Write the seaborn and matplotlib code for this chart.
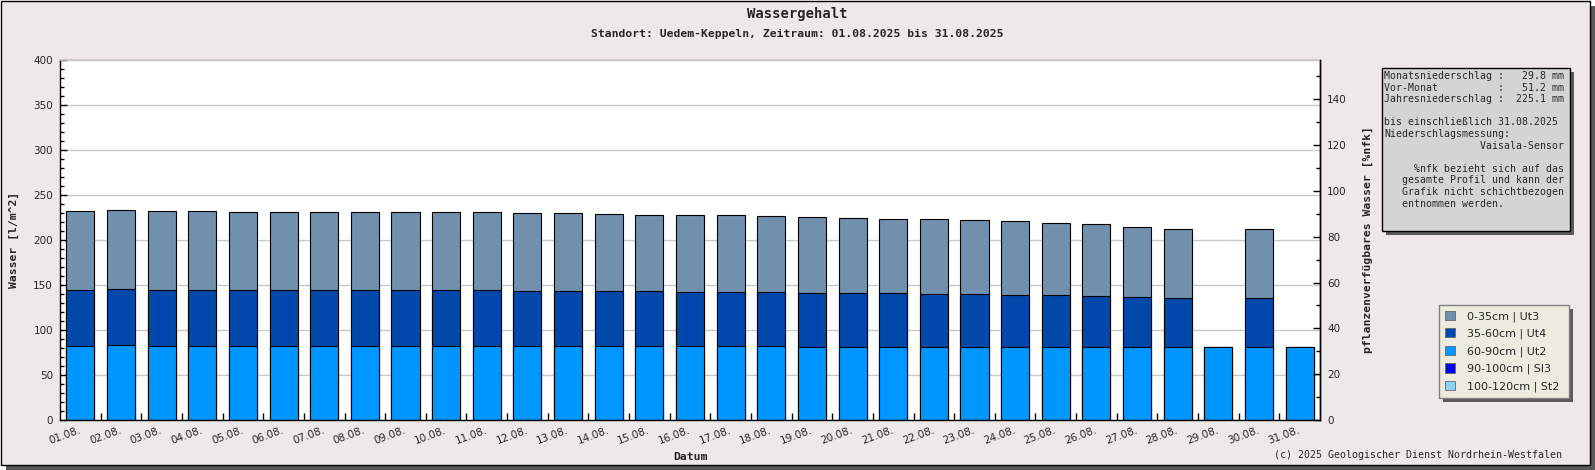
import numpy as np
import matplotlib
matplotlib.use('Agg')
import matplotlib.pyplot as plt
from matplotlib.patches import Rectangle, Patch
from matplotlib.ticker import MultipleLocator, FixedLocator
import seaborn as sns

# Daten: Bodenwasser je Schicht in l/m^2
tage = ['01.08.', '02.08.', '03.08.', '04.08.', '05.08.', '06.08.', '07.08.', '08.08.',
        '09.08.', '10.08.', '11.08.', '12.08.', '13.08.', '14.08.', '15.08.', '16.08.',
        '17.08.', '18.08.', '19.08.', '20.08.', '21.08.', '22.08.', '23.08.', '24.08.',
        '25.08.', '26.08.', '27.08.', '28.08.', '29.08.', '30.08.', '31.08.']

ut3_0_35 = [88.1, 87.8, 88.1, 88.1, 87.0, 87.0, 87.0, 87.0, 87.0, 87.0, 86.6,
            86.6, 86.6, 85.5, 84.4, 85.5, 85.5, 84.4, 84.5, 83.4, 82.3, 83.4,
            82.3, 82.2, 80.0, 80.0, 77.8, 76.7, 0.0, 76.7, 0.0]
ut4_35_60 = [62.3, 62.2, 62.3, 62.3, 62.3, 62.3, 62.3, 62.3, 62.3, 62.3, 62.3,
             61.2, 61.2, 61.2, 61.2, 60.1, 60.1, 60.1, 60.0, 60.0, 60.0, 58.9,
             58.9, 57.8, 57.8, 56.7, 55.6, 54.5, 0.0, 54.5, 0.0]
ut2_60_90 = [81.8, 83.0, 81.8, 81.8, 81.8, 81.8, 81.8, 81.8, 81.8, 81.8, 81.8,
             81.8, 81.8, 81.8, 81.8, 81.8, 81.8, 81.8, 80.7, 80.7, 80.7, 80.7,
             80.7, 80.7, 80.7, 80.7, 80.7, 80.7, 80.7, 80.7, 80.7]

schichten = ['0-35cm | Ut3', '35-60cm | Ut4', '60-90cm | Ut2', '90-100cm | Sl3', '100-120cm | St2']
farben = ['#7090ae', '#0048aa', '#0096ff', '#0000e8', '#8ed2f0']

info_text = "\n".join([
    "Monatsniederschlag :   29.8 mm",
    "Vor-Monat          :   51.2 mm",
    "Jahresniederschlag :  225.1 mm",
    "",
    "bis einschließlich 31.08.2025",
    "Niederschlagsmessung:",
    "                Vaisala-Sensor",
    "",
    "     %nfk bezieht sich auf das",
    "   gesamte Profil und kann der",
    "   Grafik nicht schichtbezogen",
    "   entnommen werden.",
])

W, H = 1595, 470
mono = 'DejaVu Sans Mono'

sns.set_theme(style='white')
plt.rcParams['font.family'] = ['DejaVu Sans']

fig = plt.figure(figsize=(W / 100, H / 100), dpi=100, facecolor='white')


def fx(px):
    return px / W


def fy(py):
    return 1 - py / H


# Rahmen mit Schatten
fig.add_artist(Rectangle((fx(6), fy(470)), fx(1589), 464 / H, transform=fig.transFigure,
                         facecolor='#5a5a5a', edgecolor='none', zorder=-20))
fig.add_artist(Rectangle((fx(1), fy(465)), fx(1589), 464 / H, transform=fig.transFigure,
                         facecolor='#ece9e8', edgecolor='black', linewidth=1, zorder=-19))

ax = fig.add_axes([fx(60), fy(420), fx(1260), 360 / H])
ax.set_facecolor('white')

# gestapelte Balken: erst Gesamthoehe, dann darueber die unteren Schichten
s1 = np.array(ut2_60_90)
s2 = s1 + np.array(ut4_35_60)
s3 = s2 + np.array(ut3_0_35)
for werte, col in [(s3, farben[0]), (s2, farben[1]), (s1, farben[2])]:
    sns.barplot(x=tage, y=werte, color=col, saturation=1, edgecolor='black',
                linewidth=0.8, width=0.69, errorbar=None, ax=ax)

ax.set_xlim(-0.5, 30.5)
ax.set_ylim(0, 400)
ax.set_yticks(range(0, 401, 50))
ax.yaxis.set_minor_locator(MultipleLocator(10))
ax.xaxis.set_minor_locator(FixedLocator(np.arange(0.5, 30, 1)))
ax.grid(axis='y', color='#c8c8c8', linewidth=1)
ax.set_axisbelow(True)
ax.tick_params(axis='y', which='major', direction='in', length=5, width=1,
               color='black', labelsize=7.5, pad=5, left=True)
ax.tick_params(axis='y', which='minor', direction='in', length=3, width=1,
               color='black', left=True)
ax.tick_params(axis='x', which='major', length=0, labelsize=7.5, pad=7)
ax.tick_params(axis='x', which='minor', direction='in', length=5, width=1,
               color='black', bottom=True)
for lab in ax.get_xticklabels():
    lab.set_rotation(20)
    lab.set_ha('right')
    lab.set_va('center')
    lab.set_rotation_mode('anchor')
ax.set_xlabel('')
ax.set_ylabel('')
for side in ['left', 'bottom', 'right']:
    ax.spines[side].set_color('black')
    ax.spines[side].set_linewidth(1)
ax.spines['top'].set_color('#c8c8c8')

ax2 = ax.twinx()
ax2.set_ylim(0, 157.1)
ax2.set_yticks(range(0, 141, 20))
ax2.yaxis.set_minor_locator(MultipleLocator(10))
ax2.tick_params(axis='y', which='major', direction='in', length=5, width=1,
                color='black', labelsize=7.5, pad=5, right=True)
ax2.tick_params(axis='y', which='minor', direction='in', length=3, width=1,
                color='black', right=True)
for side in ax2.spines:
    ax2.spines[side].set_visible(False)
ax2.spines['right'].set_visible(True)
ax2.spines['right'].set_color('black')
ax2.spines['right'].set_linewidth(1)
ax2.grid(False)

# Texte
fig.text(fx(797), fy(14), 'Wassergehalt', family=mono, weight='bold', fontsize=10,
         ha='center', va='center')
fig.text(fx(797), fy(34), 'Standort: Uedem-Keppeln, Zeitraum: 01.08.2025 bis 31.08.2025',
         family=mono, weight='bold', fontsize=8.2, ha='center', va='center')
fig.text(fx(14), fy(240), 'Wasser [l/m^2]', family=mono, weight='bold', fontsize=8.2,
         rotation=90, ha='center', va='center')
fig.text(fx(1368), fy(240), 'pflanzenverfügbares Wasser [%nfk]', family=mono, weight='bold',
         fontsize=8.2, rotation=90, ha='center', va='center')
fig.text(fx(690), fy(457), 'Datum', family=mono, weight='bold', fontsize=8.2,
         ha='center', va='center')
fig.text(fx(1562), fy(455), '(c) 2025 Geologischer Dienst Nordrhein-Westfalen', family=mono,
         fontsize=7.2, ha='right', va='center')

# Infobox
fig.add_artist(Rectangle((fx(1386), fy(235)), fx(188), 163 / H, transform=fig.transFigure,
                         facecolor='#5a5a5a', edgecolor='none', zorder=1))
fig.add_artist(Rectangle((fx(1382), fy(231)), fx(188), 163 / H, transform=fig.transFigure,
                         facecolor='#d4d4d4', edgecolor='black', linewidth=1, zorder=2))
fig.text(fx(1384), fy(71), info_text, family=mono, fontsize=7.15, ha='left', va='top',
         linespacing=1.2, zorder=3)

# Legende
fig.add_artist(Rectangle((fx(1443), fy(402)), fx(130), 93 / H, transform=fig.transFigure,
                         facecolor='#5a5a5a', edgecolor='none', zorder=1))
handles = [Patch(facecolor=c, edgecolor='#666666', linewidth=0.6) for c in farben]
leg = fig.legend(handles, schichten, loc='upper left',
                 bbox_to_anchor=(fx(1439), fy(305), fx(130), 0.0), mode='expand',
                 fontsize=8, frameon=True, fancybox=False, edgecolor='#808080',
                 facecolor='#ebebdf', framealpha=1, borderpad=0.5, labelspacing=0.6,
                 handlelength=0.9, handleheight=0.9, handletextpad=1.1, borderaxespad=0)
leg.get_frame().set_linewidth(1)
leg.set_zorder(2)

fig.savefig('out.png', dpi=100, facecolor='white')
